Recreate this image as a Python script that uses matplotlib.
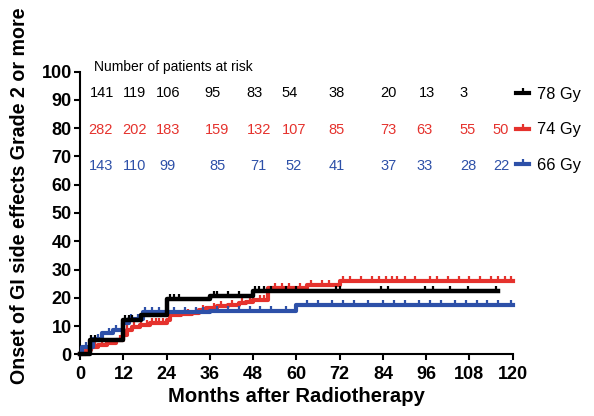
import matplotlib
matplotlib.use("Agg")
import matplotlib.pyplot as plt
from matplotlib.lines import Line2D

plt.rcParams['font.family'] = ['Liberation Sans', 'DejaVu Sans']

# cumulative incidence step curves (months, %)
t78 = [0, 2.8, 12, 17, 24, 36, 48, 116]
y78 = [0, 5.0, 12.0, 14.0, 19.6, 20.8, 22.5, 22.5]
t74 = [0, 1.5, 3, 5, 7.5, 10, 12, 13, 14.5, 16.5, 19.5, 24, 24.8, 28, 31, 33, 35, 38, 41, 44, 46, 48, 52, 63, 72, 120]
y74 = [0, 1.5, 2.5, 3.2, 3.9, 5.0, 6.8, 8.5, 9.8, 10.4, 11.0, 12.0, 13.8, 14.3, 14.8, 15.6, 16.3, 17.0, 17.6, 18.2, 18.7, 19.2, 23.5, 24.5, 26.0, 26.0]
t66 = [0, 0.5, 3.5, 6, 9, 12, 13.5, 17.5, 36, 60, 120]
y66 = [0, 2.5, 5.3, 7.5, 8.5, 11.0, 12.5, 15.0, 15.5, 17.6, 17.6]

# censored observations (months)
c78 = [3, 4, 12.5, 13.5, 14.5, 25, 26, 27.5, 37, 38, 41, 44, 48.5, 49.5, 51, 53, 57, 60, 71, 72, 83.6, 85.4, 95.6, 97.9, 102.5, 107.5, 115.4]
c74 = [4, 6, 8, 9, 11, 13, 15, 17, 18.5, 20, 21, 22, 23, 26, 27, 29, 30, 32, 34, 37, 39, 42, 45, 47, 50, 51, 54, 56, 58, 61, 64, 67,
       69, 73, 75, 78, 81, 83, 85, 86.5, 88, 90, 93, 97, 99, 102, 105, 108, 111, 114, 116, 118, 119.5]
c66 = [1.5, 5, 8, 10, 14, 16, 18, 20, 22, 26, 29, 32, 34, 38, 41, 44, 47, 50, 53, 57, 63, 66, 70, 73, 76, 80, 84, 87, 90, 94,
       97, 100, 104, 107, 110, 113, 116, 119.5]

groups = ['78 Gy', '74 Gy', '66 Gy']
colors = ['#000000', '#e5322d', '#2d50a8']

risk78 = [141, 119, 106, 95, 83, 54, 38, 20, 13, 3]
risk74 = [282, 202, 183, 159, 132, 107, 85, 73, 63, 55, 50]
risk66 = [143, 110, 99, 85, 71, 52, 41, 37, 33, 28, 22]
risk_x = [5.7, 15, 24.3, 38, 49.5, 59.3, 71.2, 85.6, 95.5, 107.6, 116.8]
risk_x78 = [6.2, 15, 24.3, 36.8, 48.5, 58, 71.2, 85.6, 96.3, 106.5]
risk_y = [92.3, 79.3, 66.5]

fig = plt.figure(figsize=(5.94, 4.16), dpi=100)
ax = fig.add_axes([0.135, 0.148, 0.728, 0.680])

tick_up = [(0, 0), (0, 1)]
curves = [(t78, y78, c78), (t74, y74, c74), (t66, y66, c66)]
order = [1, 2, 0]
for i in order:
    t, y, cens = curves[i]
    ax.step(t, y, where='post', color=colors[i], lw=3.2 if i == 0 else 3.0, clip_on=False, zorder=3 + (i == 0))
    # value of step function at each censored time
    cy = []
    for c in cens:
        v = y[0]
        for tt, yy in zip(t, y):
            if tt <= c:
                v = yy
        cy.append(v)
    ax.plot(cens, cy, ls='none', marker=tick_up, ms=7, mew=1.6, color=colors[i], clip_on=False, zorder=3 + (i == 0))

ax.set_xlim(0, 120)
ax.set_ylim(0, 100)
ax.set_xticks(range(0, 121, 12))
ax.set_yticks(range(0, 101, 10))
for s in ['top', 'right']:
    ax.spines[s].set_visible(False)
for s in ['left', 'bottom']:
    ax.spines[s].set_linewidth(1.5)
ax.tick_params(width=1.5, length=4, labelsize=13)
ax.tick_params(axis='x', pad=4)
ax.tick_params(axis='y', pad=2)
for lab in ax.get_xticklabels() + ax.get_yticklabels():
    lab.set_fontweight('bold')

ax.set_xlabel('Months after Radiotherapy', fontsize=14.6, fontweight='bold', labelpad=3)
ax.set_ylabel('Onset of GI side effects Grade 2 or more', fontsize=14.1, fontweight='bold')
ax.yaxis.set_label_coords(-0.118, 0.56)

# numbers at risk
ax.text(3.8, 101.7, 'Number of patients at risk', fontsize=10, va='center', ha='left')
for x, n in zip(risk_x78, risk78):
    ax.text(x, risk_y[0], str(n), color=colors[0], fontsize=10.5, ha='center', va='center')
for x, n in zip(risk_x, risk74):
    ax.text(x, risk_y[1], str(n), color=colors[1], fontsize=10.5, ha='center', va='center')
for x, n in zip(risk_x, risk66):
    ax.text(x, risk_y[2], str(n), color=colors[2], fontsize=10.5, ha='center', va='center')

handles = [Line2D([0], [0], color=c, lw=3, marker=tick_up, ms=7, mew=1.6) for c in colors]
fig.legend(handles, groups, loc='upper left', bbox_to_anchor=(0.869, 0.791), frameon=False, fontsize=11.8,
           handlelength=0.8, handletextpad=0.45, labelspacing=1.25, borderpad=0, borderaxespad=0)

fig.savefig('out.png', dpi=100)
